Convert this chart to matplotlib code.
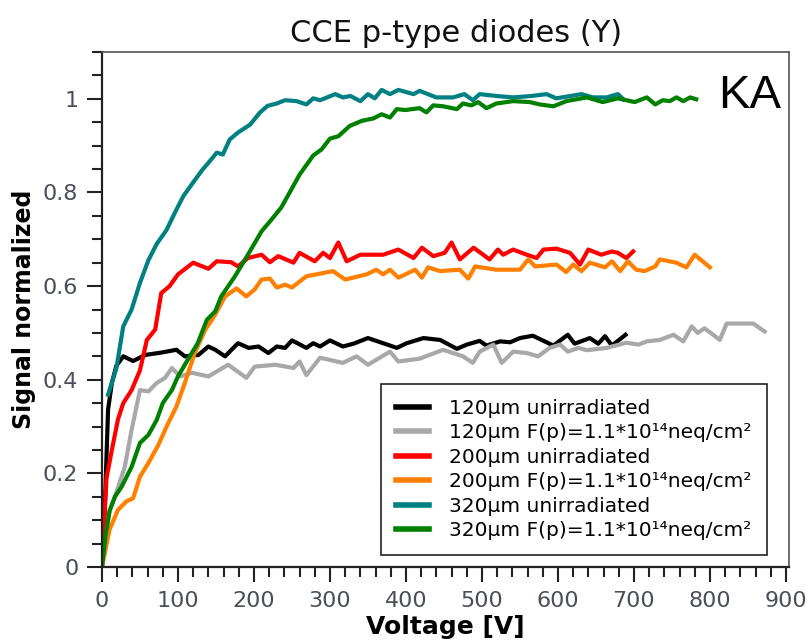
import numpy as np
import matplotlib
matplotlib.use('Agg')
import matplotlib.pyplot as plt
from matplotlib.ticker import MultipleLocator, FuncFormatter

# voltage [V] / normalised signal for each diode
v_120 = [0, 4, 8, 13, 19, 28, 41, 57, 78, 98, 109, 127, 140, 149, 162, 179, 193, 206, 219, 230, 241, 250,
         269, 278, 287, 300, 317, 331, 350, 370, 388, 401, 423, 445, 467, 480, 497, 506, 524, 537, 550,
         567, 594, 613, 622, 642, 653, 662, 671, 689]
s_120 = [0, 0.14, 0.336, 0.393, 0.43, 0.45, 0.44, 0.453, 0.458, 0.464, 0.45, 0.453, 0.471, 0.464, 0.45, 0.478,
         0.468, 0.471, 0.457, 0.471, 0.468, 0.484, 0.468, 0.478, 0.471, 0.484, 0.471, 0.477, 0.489, 0.478,
         0.468, 0.478, 0.489, 0.485, 0.466, 0.475, 0.483, 0.473, 0.482, 0.48, 0.489, 0.494, 0.473, 0.496,
         0.477, 0.489, 0.477, 0.493, 0.473, 0.496]

v_120_irr = [0, 5, 10, 17, 30, 39, 50, 61, 72, 83, 92, 103, 118, 140, 166, 190, 201, 228, 252, 260, 269, 287,
             317, 335, 350, 379, 390, 418, 449, 475, 488, 497, 515, 526, 541, 559, 574, 589, 603, 613, 627,
             638, 664, 690, 706, 717, 734, 752, 765, 776, 784, 793, 813, 822, 857, 872]
s_120_irr = [0, 0.07, 0.12, 0.15, 0.214, 0.293, 0.378, 0.375, 0.393, 0.404, 0.425, 0.407, 0.415, 0.407, 0.432,
             0.404, 0.428, 0.432, 0.425, 0.439, 0.41, 0.447, 0.436, 0.45, 0.432, 0.46, 0.439, 0.445, 0.464,
             0.45, 0.436, 0.46, 0.475, 0.436, 0.46, 0.457, 0.45, 0.468, 0.475, 0.46, 0.468, 0.463, 0.468,
             0.479, 0.475, 0.482, 0.485, 0.496, 0.482, 0.514, 0.5, 0.51, 0.485, 0.52, 0.52, 0.503]

v_200 = [0, 2, 6, 13, 21, 28, 39, 50, 59, 70, 78, 89, 100, 120, 140, 151, 170, 179, 192, 210, 221, 232, 252,
         260, 280, 291, 300, 311, 322, 340, 370, 390, 410, 421, 436, 451, 460, 471, 489, 510, 521, 528, 541,
         559, 572, 581, 598, 616, 629, 640, 657, 671, 679, 690, 699]
s_200 = [0, 0.07, 0.19, 0.25, 0.315, 0.35, 0.378, 0.42, 0.485, 0.507, 0.585, 0.6, 0.625, 0.65, 0.637, 0.653,
         0.651, 0.642, 0.66, 0.667, 0.651, 0.664, 0.65, 0.671, 0.653, 0.671, 0.66, 0.693, 0.653, 0.667, 0.667,
         0.678, 0.66, 0.682, 0.664, 0.671, 0.693, 0.657, 0.682, 0.657, 0.678, 0.667, 0.678, 0.667, 0.66,
         0.678, 0.68, 0.671, 0.646, 0.678, 0.667, 0.674, 0.671, 0.66, 0.674]

v_200_irr = [0, 5, 10, 21, 32, 41, 50, 61, 74, 85, 98, 109, 122, 136, 149, 162, 177, 190, 201, 210, 221, 230,
             241, 250, 269, 304, 320, 348, 361, 370, 379, 390, 412, 421, 429, 445, 471, 482, 491, 519, 550,
             561, 570, 598, 611, 620, 631, 642, 662, 671, 682, 692, 703, 714, 728, 734, 756, 769, 780, 800]
s_200_irr = [0, 0.04, 0.08, 0.122, 0.14, 0.147, 0.193, 0.222, 0.26, 0.3, 0.343, 0.393, 0.457, 0.507, 0.539,
             0.578, 0.595, 0.578, 0.593, 0.614, 0.616, 0.597, 0.603, 0.597, 0.621, 0.632, 0.614, 0.625, 0.635,
             0.625, 0.635, 0.618, 0.635, 0.618, 0.64, 0.632, 0.635, 0.616, 0.642, 0.635, 0.635, 0.657, 0.642,
             0.646, 0.63, 0.646, 0.632, 0.65, 0.64, 0.653, 0.632, 0.653, 0.635, 0.632, 0.642, 0.657, 0.65,
             0.64, 0.667, 0.64]

v_320 = [8, 19, 28, 39, 50, 61, 72, 85, 96, 107, 118, 131, 144, 151, 159, 168, 179, 195, 208, 218, 230, 241,
         256, 269, 278, 287, 307, 317, 327, 340, 350, 359, 368, 379, 390, 410, 418, 429, 440, 462, 477, 488,
         497, 519, 541, 565, 585, 598, 631, 646, 664, 679, 686]
s_320 = [0.368, 0.425, 0.514, 0.55, 0.607, 0.655, 0.69, 0.72, 0.757, 0.792, 0.817, 0.846, 0.871, 0.885,
         0.881, 0.913, 0.928, 0.945, 0.971, 0.985, 0.99, 0.997, 0.995, 0.988, 1.001, 0.997, 1.01, 1.003,
         1.006, 0.995, 1.01, 1.001, 1.019, 1.01, 1.019, 1.01, 1.017, 1.01, 1.003, 1.003, 1.01, 0.997, 1.01,
         1.006, 1.003, 1.006, 1.01, 1.001, 1.01, 1.003, 1.003, 1.01, 0.999]

v_320_irr = [0, 5, 10, 17, 26, 39, 50, 61, 72, 80, 92, 100, 113, 126, 138, 149, 157, 175, 192, 210, 223, 236,
             247, 260, 278, 289, 300, 311, 326, 342, 357, 368, 379, 388, 399, 418, 427, 436, 449, 467, 475,
             486, 495, 506, 519, 541, 563, 576, 594, 611, 638, 659, 679, 701, 717, 728, 738, 747, 756, 765,
             774, 782]
s_320_irr = [0, 0.07, 0.12, 0.15, 0.172, 0.214, 0.265, 0.282, 0.314, 0.35, 0.378, 0.407, 0.443, 0.478, 0.528,
             0.546, 0.578, 0.621, 0.667, 0.717, 0.742, 0.768, 0.8, 0.838, 0.879, 0.892, 0.915, 0.92, 0.942,
             0.953, 0.958, 0.967, 0.96, 0.978, 0.976, 0.98, 0.971, 0.986, 0.984, 0.978, 0.99, 0.986, 0.993,
             0.98, 0.99, 0.995, 0.993, 0.988, 0.984, 0.995, 1.003, 0.993, 1.001, 0.993, 1.003, 0.988, 0.997,
             0.995, 1.003, 0.995, 1.003, 0.999]

labels = ['120µm unirradiated', '120µm F(p)=1.1*10¹⁴neq/cm²',
          '200µm unirradiated', '200µm F(p)=1.1*10¹⁴neq/cm²',
          '320µm unirradiated', '320µm F(p)=1.1*10¹⁴neq/cm²']
colors = ['#000000', '#a8a8aa', '#ff0000', '#ff8000', '#008080', '#008000']

series = [(v_120, s_120), (v_120_irr, s_120_irr), (v_200, s_200),
          (v_200_irr, s_200_irr), (v_320, s_320), (v_320_irr, s_320_irr)]

fig = plt.figure(figsize=(8.10, 6.41), dpi=100)
ax = fig.add_axes([0.1259, 0.1154, 0.8481, 0.8035])

for (v, s), lab, c in zip(series, labels, colors):
    ax.plot(v, s, color=c, lw=3.0, label=lab)

ax.set_xlim(0, 904)
ax.set_ylim(0, 1.1)
ax.xaxis.set_major_locator(MultipleLocator(100))
ax.xaxis.set_minor_locator(MultipleLocator(20))
ax.yaxis.set_major_locator(MultipleLocator(0.2))
ax.yaxis.set_minor_locator(MultipleLocator(0.05))
ax.yaxis.set_major_formatter(FuncFormatter(lambda y, p: '%g' % round(y, 2)))

ax.tick_params(which='both', direction='out', top=False, right=False,
               labelsize=16, labelcolor='#4a4e58', width=1.5, color='#222222')
ax.tick_params(which='major', length=11, pad=6)
ax.tick_params(which='minor', length=7)
for side in ['left', 'bottom']:
    ax.spines[side].set_linewidth(1.6)
    ax.spines[side].set_color('#222222')
for side in ['top', 'right']:
    ax.spines[side].set_linewidth(1.2)
    ax.spines[side].set_color('#555555')

ax.set_title('CCE p-type diodes (Y)', fontsize=22, pad=7, color='#111111', x=0.516)
ax.set_xlabel('Voltage [V]', fontsize=18, fontweight='bold', labelpad=3)
ax.set_ylabel('Signal normalized', fontsize=17, fontweight='bold', labelpad=5)

ax.text(0.988, 0.891, 'KA', transform=ax.transAxes, fontsize=34, family='Liberation Sans',
        ha='right', va='baseline')

leg = ax.legend(loc='lower right', bbox_to_anchor=(0.968, 0.023), fontsize=14.5, frameon=True,
                fancybox=False, shadow=False, edgecolor='#222222', framealpha=1,
                handlelength=1.65, handletextpad=1.0, labelspacing=0.27, borderpad=0.75,
                borderaxespad=0)
leg.get_frame().set_linewidth(1.2)
for line in leg.get_lines():
    line.set_linewidth(4)

fig.savefig('out.png', dpi=100)
